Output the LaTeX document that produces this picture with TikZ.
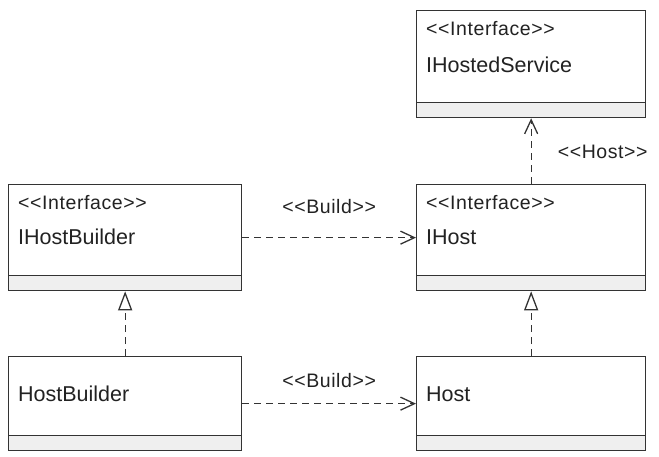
\documentclass[tikz,border=0pt]{standalone}
\usepackage{fontspec}
\newfontfamily\umlfont{Liberation Sans}
\newfontfamily\stereofont{Liberation Sans}[LetterSpace=3]
\usetikzlibrary{arrows.meta,positioning,calc}
\definecolor{umlline}{HTML}{333333}
\definecolor{umlfill}{HTML}{EFEFEF}
\definecolor{umltext}{HTML}{222222}
\tikzset{
    % Whole class box
    classbox/.style={rectangle,draw=umlline,line width=1.3bp,fill=white,minimum width=#1,inner sep=0pt,anchor=north west},
    % Empty operations compartment
    opbox/.style={rectangle,draw=umlline,line width=1.3bp,fill=umlfill,minimum width=#1,minimum height=15bp,inner sep=0pt,anchor=south west},
    % Stereotype and class name texts
    stereo/.style={text=umltext,font=\stereofont\fontsize{19.5bp}{21bp}\selectfont,inner sep=0pt,anchor=base west},
    cname/.style={text=umltext,font=\umlfont\fontsize{21.5bp}{23bp}\selectfont,inner sep=0pt,anchor=base west},
    % Edge label
    elabel/.style={text=umltext,font=\stereofont\fontsize{19.5bp}{21bp}\selectfont,inner sep=0pt},
    % Dependency arrow
    dep/.style={-{Straight Barb[length=14bp,width=13bp,line width=1.3bp]},umlline,line width=1.3bp,dash pattern=on 7bp off 5bp},
    % Realization arrow
    realize/.style={-{Triangle[open,length=19bp,width=14bp,line width=1.3bp]},umlline,line width=1.3bp,dash pattern=on 7bp off 5bp}
}
\begin{document}
\begin{tikzpicture}[x=1bp,y=-1bp]
    \useasboundingbox (0,0) rectangle (659,457);

    % Class boxes
    \node[classbox=229bp,minimum height=107bp] (ihs) at (416,10) {};
    \node[classbox=233bp,minimum height=106bp] (ihb) at (8,184) {};
    \node[classbox=229bp,minimum height=106bp] (ih) at (416,184) {};
    \node[classbox=233bp,minimum height=94bp] (hb) at (8,356) {};
    \node[classbox=229bp,minimum height=94bp] (h) at (416,356) {};

    % Operations compartments
    \node[opbox=229bp] (ihs-op) at (ihs.south west) {};
    \node[opbox=233bp] (ihb-op) at (ihb.south west) {};
    \node[opbox=229bp] (ih-op) at (ih.south west) {};
    \node[opbox=233bp] (hb-op) at (hb.south west) {};
    \node[opbox=229bp] (h-op) at (h.south west) {};

    % Texts
    \node[stereo] (ihs-st) at ([xshift=10bp,yshift=-26bp]ihs.north west) {<<Interface>>};
    \node[cname] (ihs-nm) at ([xshift=10bp,yshift=-63bp]ihs.north west) {IHostedService};
    \node[stereo] (ihb-st) at ([xshift=10bp,yshift=-26bp]ihb.north west) {<<Interface>>};
    \node[cname] (ihb-nm) at ([xshift=10bp,yshift=-61bp]ihb.north west) {IHostBuilder};
    \node[stereo] (ih-st) at ([xshift=10bp,yshift=-26bp]ih.north west) {<<Interface>>};
    \node[cname] (ih-nm) at ([xshift=10bp,yshift=-61bp]ih.north west) {IHost};
    \node[cname] (hb-nm) at ([xshift=10bp,yshift=-45bp]hb.north west) {HostBuilder};
    \node[cname] (h-nm) at ([xshift=10bp,yshift=-45bp]h.north west) {Host};

    % Relations
    \draw[dep] (ihb.east) -- node[elabel,anchor=base,yshift=24bp] {<<Build>>} (ih.west);
    \draw[dep] (hb.east) -- node[elabel,anchor=base,yshift=16bp] {<<Build>>} (h.west);
    \draw[dep] (ih.north) -- node[elabel,anchor=base west,xshift=26bp,yshift=-7bp] {<<Host>>} (ihs.south);
    \draw[realize] (hb.north) -- (ihb.south);
    \draw[realize] (h.north) -- (ih.south);
\end{tikzpicture}
\end{document}
